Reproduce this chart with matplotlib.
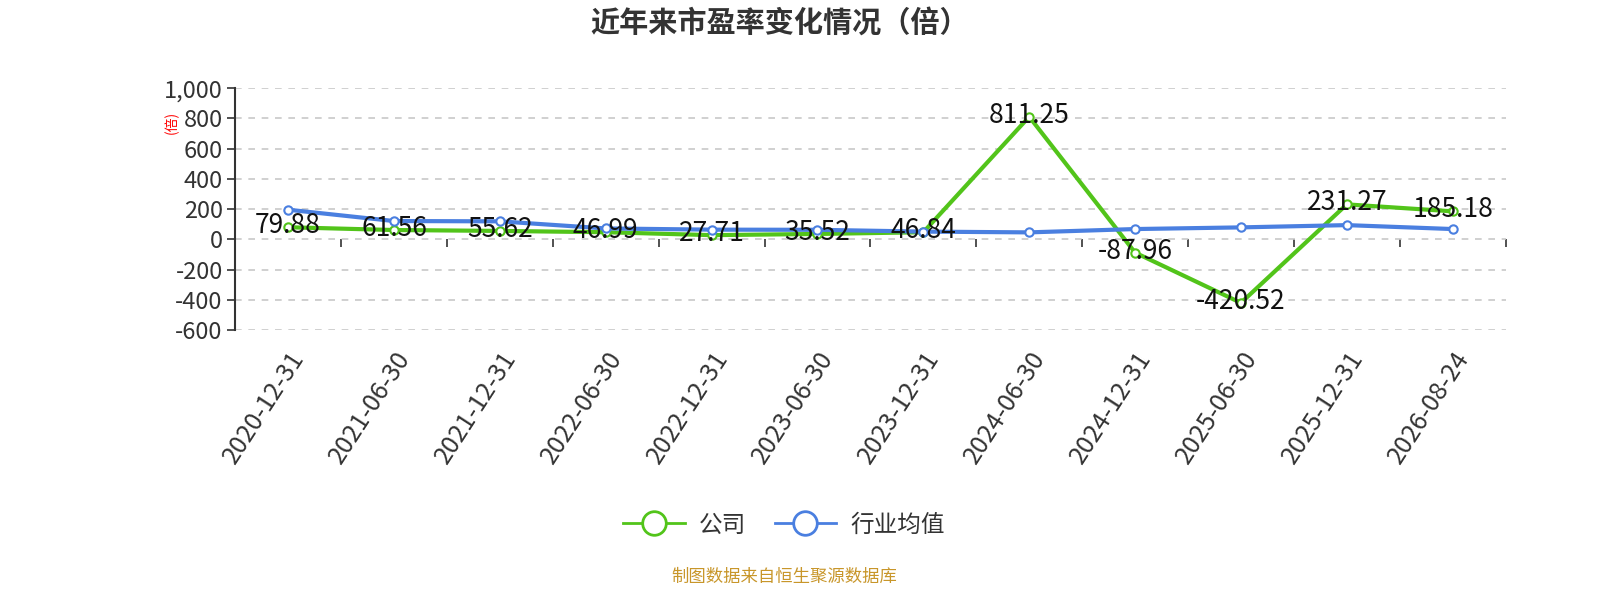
import numpy as np
import matplotlib
matplotlib.use('Agg')
import matplotlib.pyplot as plt
from matplotlib.lines import Line2D

plt.rcParams['font.family'] = ['Noto Sans CJK SC', 'DejaVu Sans']

## data
dates = ['2020-12-31', '2021-06-30', '2021-12-31', '2022-06-30', '2022-12-31',
         '2023-06-30', '2023-12-31', '2024-06-30', '2024-12-31', '2025-06-30',
         '2025-12-31', '2026-08-24']
company = [79.88, 61.56, 55.62, 46.99, 27.71, 35.52, 46.84, 811.25, -87.96,
           -420.52, 231.27, 185.18]
industry = [196, 121, 119, 72, 64, 63, 51, 46, 68, 79, 94, 68]
yticks = [-600, -400, -200, 0, 200, 400, 600, 800, 1000]

green = '#52c41a'
blue = '#4a7fe0'

fig = plt.figure(figsize=(16, 6), dpi=100)
ax = fig.add_axes([0.147, 0.45, 0.794, 0.403])

x = np.arange(len(dates))
ax.plot(x, company, color=green, lw=3, marker='o', ms=6, mfc='white',
        mec=green, mew=1.5, zorder=3)
ax.plot(x, industry, color=blue, lw=3, marker='o', ms=6, mfc='white',
        mec=blue, mew=1.5, zorder=3)

for xi, v in zip(x, company):
    ax.annotate(f'{v:.2f}', (xi, v), xytext=(0, 1), textcoords='offset points',
                ha='center', va='center', fontsize=19, color='#111', zorder=4)

ax.set_xlim(-0.5, len(dates) - 0.5)
ax.set_ylim(-600, 1000)
ax.set_yticks(yticks)
ax.set_yticklabels([f'{t:,}' for t in yticks], fontsize=17, color='#333')
ax.tick_params(axis='y', length=6, color='#333', width=1.2, pad=3)
ax.yaxis.grid(True, ls=(0, (4, 4)), color='#c8c8c8', lw=1.2)
ax.set_axisbelow(True)

ax.set_xticks(x)
ax.set_xticklabels(dates, rotation=57, ha='right', rotation_mode='anchor',
                   fontsize=18, color='#333')
ax.tick_params(axis='x', length=0, pad=12)

for s in ['top', 'right', 'bottom']:
    ax.spines[s].set_visible(False)
ax.spines['left'].set_color('#333')
ax.spines['left'].set_linewidth(1.5)

# zero line with category boundary ticks
zero_frac = (0 - (-600)) / 1600
sec = ax.secondary_xaxis(zero_frac)
sec.set_xticks(np.arange(len(dates) + 1) - 0.5)
sec.set_xticklabels([])
sec.spines['bottom'].set_visible(False)
sec.spines['top'].set_color('#333')
sec.spines['top'].set_linewidth(1.5)
sec.tick_params(axis='x', which='both', top=False, bottom=True,
                direction='out', length=6, color='#333', width=1.2)

ax.text(-0.05, 0.86, '(倍)', transform=ax.transAxes, rotation=90,
        color='red', fontsize=10, ha='center', va='center')

fig.text(0.487, 0.962, '近年来市盈率变化情况（倍）', ha='center', va='center',
         fontsize=21, fontweight='bold', color='#333')

handles = [Line2D([], [], color=green, lw=2, marker='o', ms=17, mfc='white',
                  mec=green, mew=2),
           Line2D([], [], color=blue, lw=2, marker='o', ms=17, mfc='white',
                  mec=blue, mew=2)]
fig.legend(handles, ['公司', '行业均值'], loc='center',
           bbox_to_anchor=(0.49, 0.125), ncol=2, frameon=False,
           fontsize=17, handlelength=2.6, columnspacing=1.2, handletextpad=0.6,
           labelcolor='#333')

fig.text(0.49, 0.038, '制图数据来自恒生聚源数据库', ha='center', va='center',
         fontsize=12.5, color='#c8962a')

fig.savefig('out.png', dpi=100)
